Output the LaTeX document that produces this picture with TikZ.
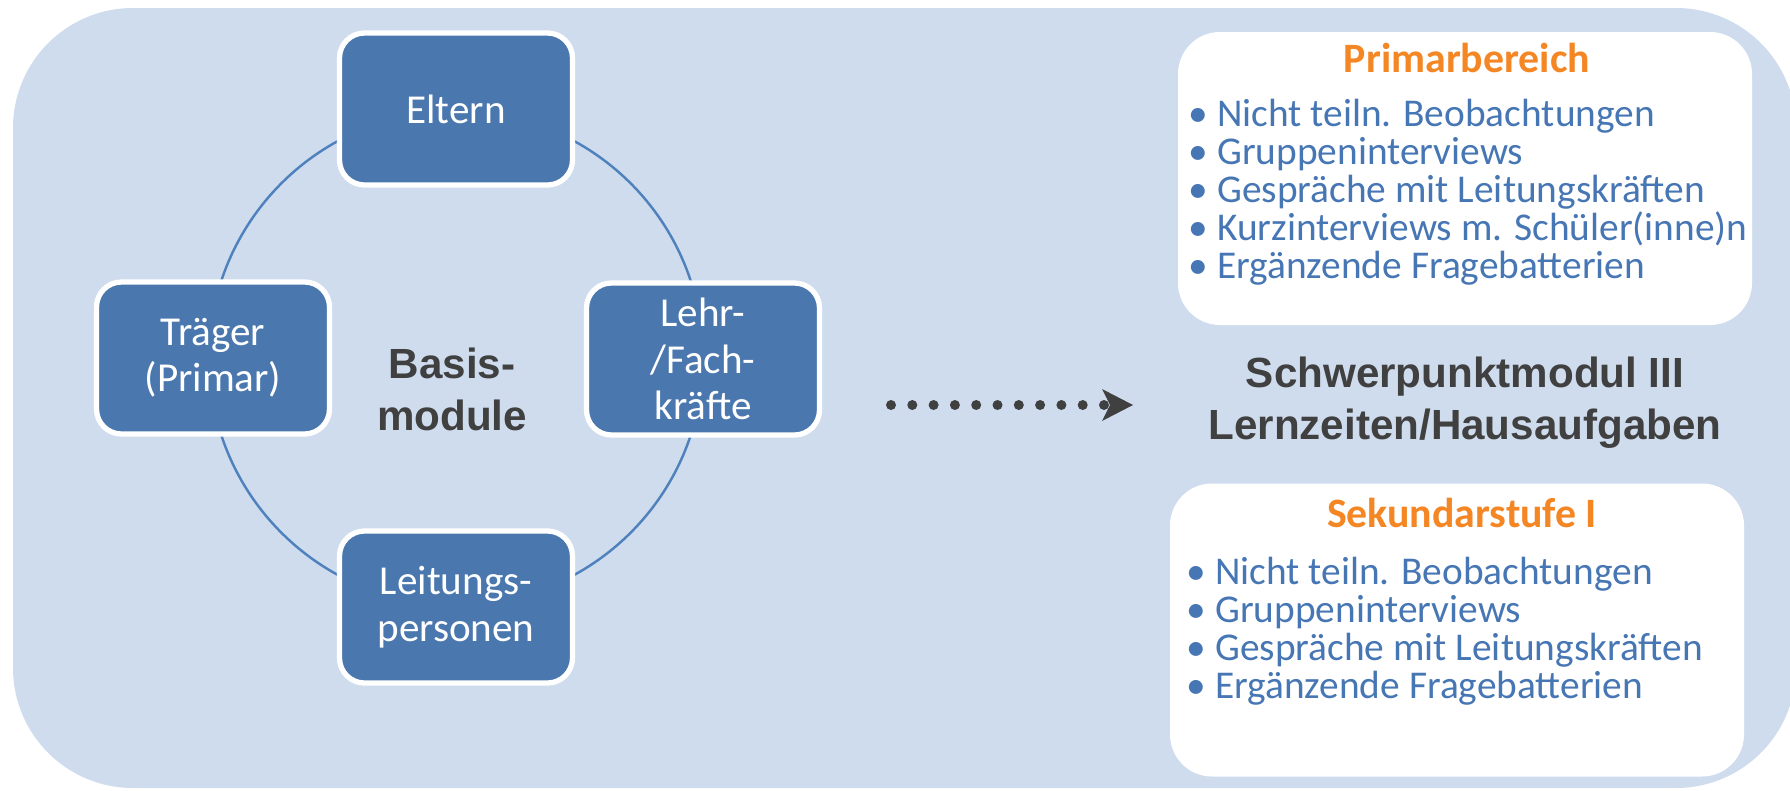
\documentclass[tikz,border=0pt]{standalone}
\usepackage{fontspec}
\setmainfont{Carlito}
\newfontfamily\arialfont{Liberation Sans}
\usetikzlibrary{arrows.meta}
\definecolor{boxblue}{RGB}{74,119,174}
\definecolor{ringblue}{RGB}{79,129,189}
\definecolor{listblue}{RGB}{70,118,180}
\definecolor{bgblue}{RGB}{207,220,238}
\definecolor{headorange}{RGB}{244,134,36}
\definecolor{darktext}{RGB}{64,64,64}

\begin{document}
\begin{tikzpicture}[
  group/.style={rectangle, rounded corners=0.25cm, fill=boxblue, draw=white, line width=1.5pt,
    minimum width=2.33cm, minimum height=1.52cm, text=white, align=center, inner sep=0pt,
    font=\fontsize{11.7}{13.2}\selectfont},
  panel/.style={rectangle, rounded corners=0.42cm, fill=white, minimum width=5.74cm,
    minimum height=2.93cm, inner sep=0pt},
  paneltitle/.style={anchor=base, text=headorange, inner sep=0pt, font=\fontsize{11.9}{13}\selectfont\bfseries},
  itemlist/.style={anchor=base west, align=left, text=listblue, inner sep=0pt, font=\fontsize{11.2}{10.8}\selectfont},
  bigtext/.style={align=center, text=darktext, inner sep=0pt, font=\arialfont\fontsize{12}{14.8}\selectfont\bfseries}
]
\useasboundingbox (0,0) rectangle (17.9,7.9);
\fill[bgblue, rounded corners=1.2cm] (0.13,0.02) rectangle (17.96,7.82);

\coordinate (hub) at (4.56,4.32);
\draw[ringblue, line width=0.7pt] (hub) circle (2.47);

\node[group] (eltern) at (4.56,6.81) {Eltern};
\node[group] (traeger) at (2.13,4.32) {Träger\\(Primar)};
\node[group] (lehr) at (7.03,4.31) {Lehr-\\/Fach-\\kräfte};
\node[group] (leitung) at (4.56,1.83) {Leitungs-\\personen};
\node[bigtext] (basis) at (4.52,4.01) {Basis-\\module};

\coordinate (dotstart) at (8.91,3.85);
\coordinate (dotend) at (11.33,3.85);
\draw[darktext, line width=1mm, line cap=round, dash pattern=on 0pt off 2.13mm,
  -{Stealth[length=3.1mm, width=3.2mm, inset=0.8mm, line width=0pt]}] (dotstart) -- (dotend);

\node[bigtext] (schwer) at (14.65,3.875) {Schwerpunktmodul III\\Lernzeiten/Hausaufgaben};

% base = last line of the list
\node[panel] (prim) at (14.65,6.115) {};
\node[paneltitle] (primtitle) at (14.67,7.18) {Primarbereich};
\node[itemlist] (primlist) at (11.88,5.12) {• Nicht teiln. Beobachtungen\\• Gruppeninterviews\\• Gespräche mit Leitungskräften\\• Kurzinterviews m. Schüler(inne)n\\• Ergänzende Fragebatterien};

\node[panel] (sek) at (14.57,1.60) {};
\node[paneltitle] (sektitle) at (14.62,2.63) {Sekundarstufe I};
\node[itemlist] (seklist) at (11.86,0.92) {• Nicht teiln. Beobachtungen\\• Gruppeninterviews\\• Gespräche mit Leitungskräften\\• Ergänzende Fragebatterien};
\end{tikzpicture}
\end{document}
